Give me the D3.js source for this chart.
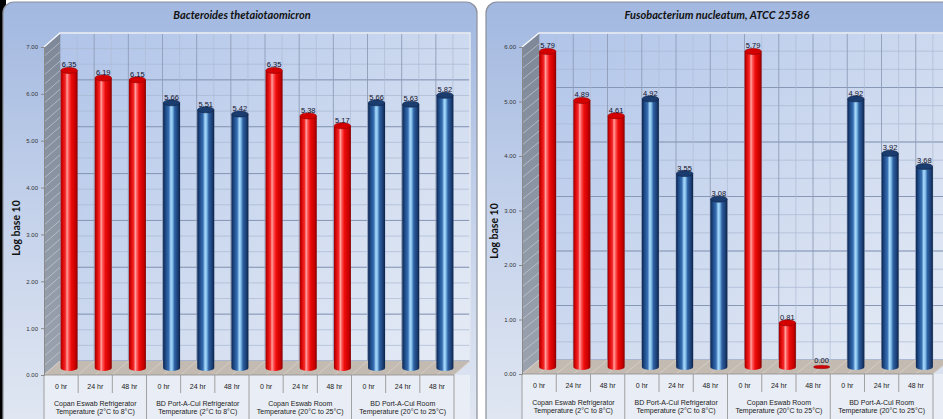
<!DOCTYPE html>
<html>
<head>
<meta charset="utf-8">
<script src="https://cdn.jsdelivr.net/npm/d3@7"></script>
<style>
  body { margin: 0; background: #ffffff; }
  svg { display: block; }
</style>
</head>
<body>
<svg id="chart"></svg>
<script>
// values
const hours = ["0 hr", "24 hr", "48 hr"];
const groups = [
    ["Copan Eswab Refrigerator", "Temperature (2°C to 8°C)"],
    ["BD Port-A-Cul Refrigerator", "Temperature (2°C to 8°C)"],
    ["Copan Eswab Room", "Temperature (20°C to 25°C)"],
    ["BD Port-A-Cul Room", "Temperature (20°C to 25°C)"],
];
const groupColors = ["red", "blue", "red", "blue"];
const bacteroidesValues = [6.35, 6.19, 6.15, 5.66, 5.51, 5.42, 6.35, 5.38, 5.17, 5.66, 5.63, 5.82];
const fusobacteriumValues = [5.79, 4.89, 4.61, 4.92, 3.55, 3.08, 5.79, 0.81, 0.0, 4.92, 3.92, 3.68];
const bacteroidesTicks = [0, 1, 2, 3, 4, 5, 6, 7];
const fusobacteriumTicks = [0, 1, 2, 3, 4, 5, 6];

const width = 943;
const height = 419;
let svg = d3.select("#chart").attr("width", width).attr("height", height);

// columns = group x hour
const columns = [];
groups.forEach((g, gi) => hours.forEach((h) => columns.push(gi + "|" + h)));

let defs = svg.append("defs");

function linGrad(id, x2, y2, stops) {
    let g = defs.append("linearGradient").attr("id", id)
        .attr("x1", 0).attr("y1", 0).attr("x2", x2).attr("y2", y2);
    stops.forEach((s) => g.append("stop").attr("offset", s[0]).attr("stop-color", s[1]));
}

linGrad("cylRed", 1, 0, [
    [0, "#9a0000"], [0.12, "#d80606"], [0.28, "#f52828"], [0.38, "#ffa3a3"],
    [0.47, "#ff5555"], [0.62, "#ee0c0c"], [0.86, "#c80000"], [1, "#860000"],
]);
linGrad("cylBlue", 1, 0, [
    [0, "#0c2550"], [0.15, "#1e4a86"], [0.34, "#3870b4"], [0.46, "#a9dafa"],
    [0.55, "#86c1ec"], [0.68, "#2e60a2"], [0.88, "#1a3d73"], [1, "#0b2145"],
]);
linGrad("panelBg", 0, 1, [[0, "#a2b8e0"], [0.45, "#c2d0ea"], [1, "#e3e9f3"]]);
linGrad("wallBg", 1, 1, [[0, "#b0c4e9"], [0.6, "#d2ddf0"], [1, "#e6ecf6"]]);
linGrad("sideBg", 0, 1, [[0, "#7e8898"], [1, "#9aa2ae"]]);

const cylFill = { red: "url(#cylRed)", blue: "url(#cylBlue)" };
const capFill = { red: "#d40000", blue: "#1b3c6e" };
const capStroke = { red: "#900000", blue: "#0c2246" };

// black strip on the far left edge of the screenshot
svg.append("rect").attr("x", 0).attr("y", 0).attr("width", 6).attr("height", height).attr("fill", "#000");

function drawPanel(cfg) {
    let g = svg.append("g");

    g.append("rect")
        .attr("x", cfg.px).attr("y", 2)
        .attr("width", cfg.pw).attr("height", 440)
        .attr("rx", 11)
        .attr("fill", "url(#panelBg)")
        .attr("stroke", "#8b9099").attr("stroke-width", 1.2);

    g.append("text")
        .attr("x", cfg.titleX).attr("y", 19)
        .attr("text-anchor", "middle")
        .style("font-family", "Lato, 'Open Sans', sans-serif")
        .style("font-weight", "bold").style("font-style", "italic")
        .style("font-size", "11px").attr("fill", "#111")
        .text(cfg.title);

    const dx = cfg.dx, dy = cfg.dy;
    const yMax = d3.max(cfg.ticks);

    let scX = d3.scaleBand().domain(columns).range([cfg.x0, cfg.x1]);
    let scY = d3.scaleLinear().domain([0, yMax]).range([cfg.y0, cfg.yTop]);
    const bw = scX.bandwidth();

    // back wall
    g.append("rect")
        .attr("x", cfg.x0 + dx).attr("y", cfg.yTop + dy)
        .attr("width", cfg.x1 - cfg.x0).attr("height", cfg.y0 - cfg.yTop)
        .attr("fill", "url(#wallBg)");

    // minor + major horizontal grid on wall
    const minor = d3.range(0, yMax + 0.001, 1 / 3);
    g.selectAll(".hminor").data(minor).enter().append("line")
        .attr("x1", cfg.x0 + dx).attr("x2", cfg.x1 + dx)
        .attr("y1", (d) => scY(d) + dy).attr("y2", (d) => scY(d) + dy)
        .attr("stroke", "#a9b7d2").attr("stroke-width", 0.7);
    g.selectAll(".hmajor").data(cfg.ticks).enter().append("line")
        .attr("x1", cfg.x0 + dx).attr("x2", cfg.x1 + dx)
        .attr("y1", (d) => scY(d) + dy).attr("y2", (d) => scY(d) + dy)
        .attr("stroke", "#8292b1").attr("stroke-width", 0.9);

    // vertical grid on wall (column edges and half columns)
    const vlines = d3.range(0, columns.length * 2 + 1).map((k) => cfg.x0 + (k * bw) / 2);
    g.selectAll(".vline").data(vlines).enter().append("line")
        .attr("x1", (d) => d + dx).attr("x2", (d) => d + dx)
        .attr("y1", cfg.yTop + dy).attr("y2", cfg.y0 + dy)
        .attr("stroke", (d, i) => (i % 2 == 0 ? "#8e9cb8" : "#b0bcd4"))
        .attr("stroke-width", (d, i) => (i % 2 == 0 ? 0.9 : 0.7));

    // side wall
    g.append("polygon")
        .attr("points", [
            [cfg.x0, cfg.y0], [cfg.x0, cfg.yTop],
            [cfg.x0 + dx, cfg.yTop + dy], [cfg.x0 + dx, cfg.y0 + dy],
        ].join(" "))
        .attr("fill", "url(#sideBg)");
    g.selectAll(".sidehatch").data(d3.range(0, yMax + 0.001, 0.2)).enter().append("line")
        .attr("x1", cfg.x0).attr("x2", cfg.x0 + dx)
        .attr("y1", (d) => scY(d)).attr("y2", (d) => scY(d) + dy)
        .attr("stroke", "#d6dbe3").attr("stroke-width", 0.7).attr("opacity", 0.8);

    // floor
    g.append("polygon")
        .attr("points", [
            [cfg.x0, cfg.y0], [cfg.x1, cfg.y0],
            [cfg.x1 + dx, cfg.y0 + dy], [cfg.x0 + dx, cfg.y0 + dy],
        ].join(" "))
        .attr("fill", "#c3bab1");
    g.selectAll(".floorline").data(vlines).enter().append("line")
        .attr("x1", (d) => d).attr("x2", (d) => d + dx)
        .attr("y1", cfg.y0).attr("y2", cfg.y0 + dy)
        .attr("stroke", "#ddd6ce").attr("stroke-width", 0.7);

    // white top edge of plot
    g.append("polyline")
        .attr("points", [[cfg.x0, cfg.yTop], [cfg.x0 + dx, cfg.yTop + dy], [cfg.x1 + dx, cfg.yTop + dy], [cfg.x1 + dx, cfg.y0 + dy]].join(" "))
        .attr("fill", "none").attr("stroke", "#f4f7fc").attr("stroke-width", 1.3);

    // category table below the floor
    g.append("rect")
        .attr("x", cfg.x0).attr("y", cfg.y0)
        .attr("width", cfg.x1 - cfg.x0 + dx).attr("height", height - cfg.y0 + 10)
        .attr("fill", "#e9edf5");
    g.append("line")
        .attr("x1", cfg.x0).attr("x2", cfg.x1).attr("y1", cfg.y0).attr("y2", cfg.y0)
        .attr("stroke", "#8e8e8e").attr("stroke-width", 0.8);
    g.selectAll(".hdiv").data(d3.range(0, columns.length + 1)).enter().append("line")
        .attr("x1", (k) => cfg.x0 + k * bw).attr("x2", (k) => cfg.x0 + k * bw)
        .attr("y1", cfg.y0)
        .attr("y2", (k) => (k % 3 == 0 ? height + 5 : cfg.y0 + 18))
        .attr("stroke", "#8e8e8e").attr("stroke-width", 0.8);

    g.selectAll(".hourlbl").data(columns).enter().append("text")
        .attr("x", (d) => scX(d) + bw / 2).attr("y", cfg.y0 + 14)
        .attr("text-anchor", "middle")
        .style("font-family", "Arial, 'Liberation Sans', sans-serif")
        .style("font-size", "7px").attr("fill", "#222")
        .text((d) => d.split("|")[1]);

    groups.forEach((lines, gi) => {
        let cx = cfg.x0 + (gi * 3 + 1.5) * bw;
        lines.forEach((line, li) => {
            g.append("text")
                .attr("x", cx).attr("y", cfg.y0 + 31 + li * 8)
                .attr("text-anchor", "middle")
                .style("font-family", "Arial, 'Liberation Sans', sans-serif")
                .style("font-size", "7px").attr("fill", "#222")
                .text(line);
        });
    });

    // y axis on the front edge
    let axisY = d3.axisLeft(scY).tickValues(cfg.ticks).tickFormat(d3.format(".2f"))
        .tickSize(3).tickPadding(3);
    let ax = g.append("g").attr("transform", `translate(${cfg.x0}, 0)`).call(axisY);
    ax.select(".domain").attr("stroke", "#8a8a8a");
    ax.selectAll(".tick line").attr("stroke", "#8a8a8a");
    ax.selectAll("text")
        .style("font-family", "Arial, 'Liberation Sans', sans-serif")
        .style("font-size", "6px").attr("fill", "#333");

    g.append("text")
        .attr("transform", `translate(${cfg.ylabX}, ${cfg.ylabY}) rotate(-90)`)
        .attr("text-anchor", "middle")
        .style("font-family", "Lato, 'Open Sans', sans-serif")
        .style("font-weight", "bold").style("font-size", "10.5px").attr("fill", "#111")
        .text("Log base 10");

    // cylinders
    const w = 17, ry = 3;
    const bars = columns.map((c, i) => {
        const gi = +c.split("|")[0];
        return { key: c, value: cfg.values[i], color: groupColors[gi] };
    });
    const cxOf = (d) => scX(d.key) + bw / 2 + dx / 2;
    const yb = cfg.y0 + dy / 2;
    const ytOf = (d) => scY(d.value) + dy / 2;

    g.selectAll(".body").data(bars.filter((d) => d.value > 0)).enter().append("path")
        .attr("d", (d) => {
            const l = cxOf(d) - w / 2, r = cxOf(d) + w / 2, yt = ytOf(d);
            return `M${l},${yt} L${l},${yb} A${w / 2},${ry} 0 0 0 ${r},${yb} L${r},${yt} Z`;
        })
        .attr("fill", (d) => cylFill[d.color]);

    g.selectAll(".cap").data(bars).enter().append("ellipse")
        .attr("cx", cxOf).attr("cy", ytOf)
        .attr("rx", w / 2 - 0.3).attr("ry", (d) => (d.value > 0 ? ry : 1.6))
        .attr("fill", (d) => capFill[d.color])
        .attr("stroke", (d) => capStroke[d.color]).attr("stroke-width", 0.6);

    g.selectAll(".vlabel").data(bars).enter().append("text")
        .attr("x", cxOf).attr("y", (d) => ytOf(d) - (d.value > 0 ? 3 : 4))
        .attr("text-anchor", "middle")
        .style("font-family", "Arial, 'Liberation Sans', sans-serif")
        .style("font-size", "7.5px").attr("fill", "#10102a")
        .text((d) => d.value.toFixed(2));
}

drawPanel({
    px: 3, pw: 474, title: "Bacteroides thetaiotaomicron", titleX: 242,
    values: bacteroidesValues, ticks: bacteroidesTicks,
    x0: 44, x1: 454, y0: 375, yTop: 47, dx: 16, dy: -14,
    ylabX: 20, ylabY: 228,
});

drawPanel({
    px: 486, pw: 470, title: "Fusobacterium nucleatum, ATCC 25586", titleX: 717,
    values: fusobacteriumValues, ticks: fusobacteriumTicks,
    x0: 522, x1: 933, y0: 374, yTop: 47, dx: 17, dy: -14,
    ylabX: 498, ylabY: 231,
});
</script>
</body>
</html>
